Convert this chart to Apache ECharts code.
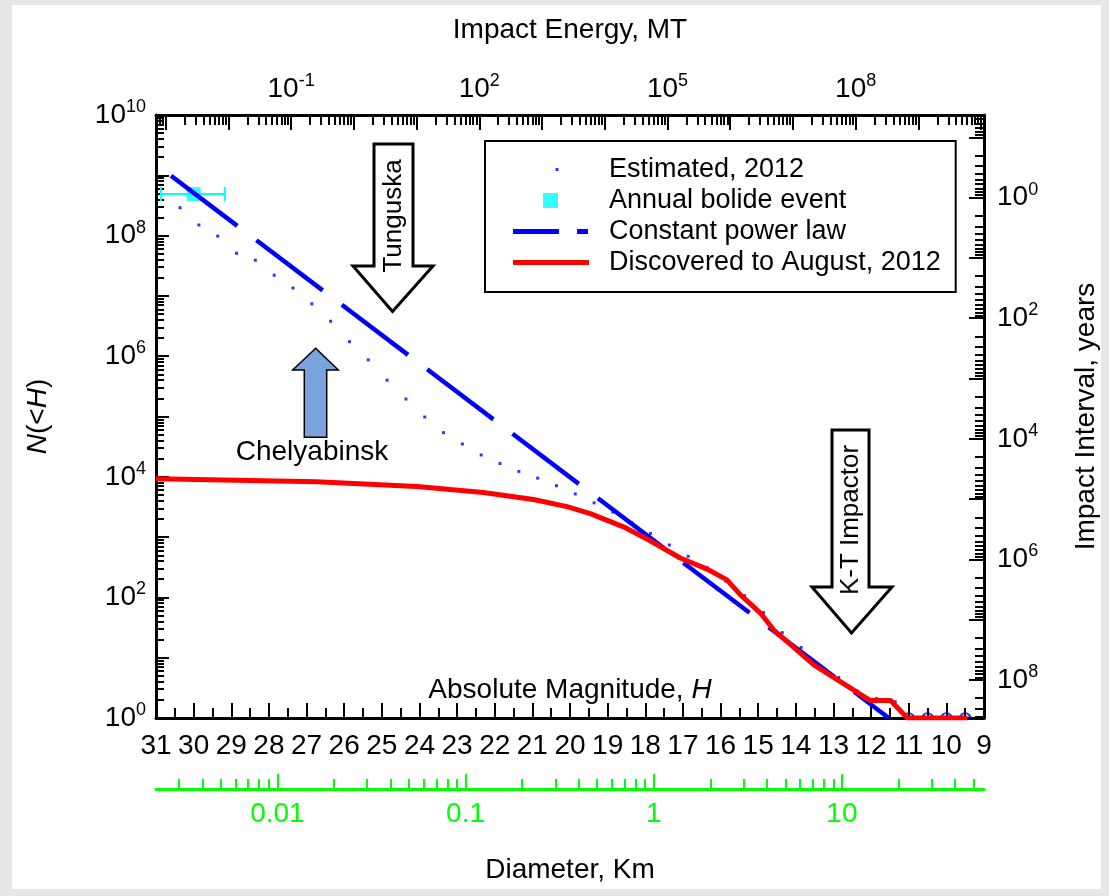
<!DOCTYPE html>
<html>
<head>
<meta charset="utf-8">
<script src="https://cdn.jsdelivr.net/npm/echarts@6/dist/echarts.min.js"></script>
<style>
  html, body { margin: 0; padding: 0; background: #e6e6e6; }
  #panel { position: absolute; left: 12px; top: 5px; width: 1089px; height: 884px; background: #fff; }
  #main { position: absolute; left: 0; top: 0; width: 1109px; height: 896px; }
</style>
</head>
<body>
<div id="panel"></div>
<div id="main"></div>
<script>
// ---- values ----
// Estimated, 2012 (cumulative N(<H), half-magnitude steps)
var estH = [30.36, 29.86, 29.36, 28.86, 28.36, 27.86, 27.36, 26.86, 26.36, 25.86,
            25.36, 24.86, 24.36, 23.86, 23.36, 22.86, 22.36, 21.86, 21.36, 20.86,
            20.36, 19.86, 19.36, 18.86, 18.36, 17.86, 17.36, 16.86, 16.36, 15.86,
            15.36, 14.86, 14.36, 13.86, 13.36, 12.86, 12.36, 11.86, 11.36];
var estN = [2.9e8, 1.5e8, 9.8e7, 5.1e7, 3.9e7, 2.2e7, 1.35e7, 7.4e6, 3.8e6, 1.74e6,
            8.7e5, 4.0e5, 1.95e5, 9.8e4, 5.4e4, 3.5e4, 2.3e4, 1.66e4, 1.23e4, 9500,
            7100, 5200, 3700, 2600, 1740, 1150, 740, 480, 310, 186,
            107, 56, 26, 14.8, 7.4, 4.7, 2.8, 2.1, 1.86];
// open markers sitting on N = 1
var lastH = [11.0, 10.5, 10.0, 9.5];
var lastN = [1, 1, 1, 1];
// Annual bolide event and its H range
var bolideH = [30.0];
var bolideN = [4.9e8];
var bolideHLo = [30.87];
var bolideHHi = [29.17];
// Constant power law
var powerH = [30.6, 11.53];
var powerN = [9.8e8, 1];
// Discovered to August, 2012
var discH = [31.0, 26.73, 24.07, 22.3, 20.97, 20.08, 19.46, 18.58, 17.87, 17.07,
             16.36, 15.83, 15.47, 14.94, 14.59, 13.52, 12.02, 11.48, 11.04, 9.44];
var discN = [9300, 8300, 6900, 5500, 4200, 3200, 2450, 1480, 870, 450,
             295, 195, 110, 55, 29, 7.6, 1.95, 1.95, 1, 1];

// tick labels
var nLabelExp = [0, 2, 4, 6, 8, 10];
var energyLabelExp = [-1, 2, 5, 8];
var intervalLabelExp = [0, 2, 4, 6, 8];
var diamLabels = [0.01, 0.1, 1, 10];

// ---- layout ----
var FONT = '"Liberation Sans", Arial, sans-serif';
var E_MIN = -3.154, E_MAX = 10.046;   // log10 energy (MT) at H = 31 and H = 9
var D_MIN = -2.645, D_MAX = 1.755;    // log10 diameter (km) at H = 31 and H = 9
var T_MIN = -1.37, T_MAX = 8.63;      // log10 interval (years) at N = 1e10 and N = 1

function lg(v) { return Math.log10(v); }

function logTicks(lo, hi, minor) {
  var out = [];
  for (var k = Math.floor(lo) - 1; k <= Math.ceil(hi); k++) {
    if (!minor) {
      if (k >= lo && k <= hi) out.push(k);
      continue;
    }
    for (var m = 2; m <= 9; m++) {
      var v = k + Math.log10(m);
      if (v >= lo && v <= hi) out.push(+v.toFixed(6));
    }
  }
  return out;
}

function supLabel(v) { return '{b|10}{s|' + Math.round(v) + '}'; }
var supRich = {
  b: { fontFamily: FONT, fontSize: 28, color: '#000' },
  s: { fontFamily: FONT, fontSize: 18, color: '#000', padding: [0, 0, 16, 0] }
};
var black = { color: '#000', width: 2 };
var nameStyle = { fontFamily: FONT, fontSize: 28, color: '#000' };
var italicRich = { i: { fontFamily: FONT, fontSize: 28, fontStyle: 'italic', color: '#000' } };
var frameLine = { onZero: false, lineStyle: { color: '#000', width: 3 } };
var noLine = { show: false, onZero: false };

function withRich(base, rich) {
  var o = {};
  for (var k in base) o[k] = base[k];
  o.rich = rich;
  return o;
}

function legendIcon(body) {
  // corner specks pin the icon frame to 91 x 16
  return 'path://M0,0h0.05v0.05h-0.05z M90.95,15.95h0.05v0.05h-0.05z ' + body;
}

var chart = echarts.init(document.getElementById('main'));

var option = {
  animation: false,
  grid: { left: 156, right: 125, top: 115, bottom: 178, containLabel: false, outerBoundsMode: 'none' },
  legend: {
    orient: 'vertical',
    left: 485,
    top: 141,
    backgroundColor: '#fff',
    borderColor: '#000',
    borderWidth: 2,
    padding: [15, 15, 16, 28],
    itemGap: 4,
    itemWidth: 91,
    itemHeight: 16,
    selectedMode: false,
    itemStyle: { borderWidth: 0 },
    textStyle: { fontFamily: FONT, fontSize: 27, color: '#000', lineHeight: 27 },
    data: [
      { name: 'Estimated, 2012', icon: legendIcon('M42.5,6.5h3v3h-3z'), itemStyle: { color: '#0000ff' } },
      { name: 'Annual bolide event', icon: legendIcon('M30,0.5h15v15h-15z'), itemStyle: { color: '#00ffff' } },
      { name: 'Constant power law', icon: legendIcon('M0,5.5h46v5h-46z M64,5.5h11v5h-11z'), itemStyle: { color: '#0000ff' } },
      { name: 'Discovered to August, 2012', icon: legendIcon('M0,5.5h76v5h-76z'), itemStyle: { color: '#ff0000' } }
    ]
  },
  xAxis: [
    { // absolute magnitude H
      type: 'value', min: 9, max: 31, interval: 1, inverse: true, position: 'bottom',
      name: 'Absolute Magnitude, {i|H}', nameLocation: 'middle', nameGap: -42,
      nameTextStyle: withRich(nameStyle, italicRich),
      axisLine: frameLine,
      axisTick: { inside: true, length: 15, lineStyle: black },
      minorTick: { show: true, splitNumber: 2, length: 10, lineStyle: black },
      axisLabel: { margin: 14, fontFamily: FONT, fontSize: 28, color: '#000' },
      splitLine: { show: false }
    },
    { // impact energy, decades
      type: 'value', position: 'top', min: E_MIN, max: E_MAX,
      name: 'Impact Energy, MT', nameLocation: 'middle', nameGap: 71, nameTextStyle: nameStyle,
      axisLine: frameLine,
      axisTick: { inside: true, length: 15, lineStyle: black, customValues: logTicks(E_MIN, E_MAX, false) },
      axisLabel: { margin: 9, customValues: energyLabelExp, formatter: supLabel, rich: supRich },
      splitLine: { show: false }
    },
    { // impact energy, minor ticks
      type: 'value', position: 'top', min: E_MIN, max: E_MAX,
      axisLine: noLine,
      axisTick: { inside: true, length: 10, lineStyle: black, customValues: logTicks(E_MIN, E_MAX, true) },
      axisLabel: { show: false },
      splitLine: { show: false }
    },
    { // diameter, decades
      type: 'value', position: 'bottom', offset: 71, min: D_MIN, max: D_MAX,
      name: 'Diameter, Km', nameLocation: 'middle', nameGap: 67, nameTextStyle: nameStyle,
      axisLine: { onZero: false, lineStyle: { color: '#00ff00', width: 3 } },
      axisTick: { inside: true, length: 15, lineStyle: { color: '#00ff00', width: 2 }, customValues: logTicks(D_MIN, D_MAX, false) },
      axisLabel: {
        margin: 11, fontFamily: FONT, fontSize: 28, color: '#00ff00',
        customValues: diamLabels.map(lg),
        formatter: function (v) { return String(Number(Math.pow(10, v).toPrecision(2))); }
      },
      splitLine: { show: false }
    },
    { // diameter, minor ticks
      type: 'value', position: 'bottom', offset: 71, min: D_MIN, max: D_MAX,
      axisLine: noLine,
      axisTick: { inside: true, length: 10, lineStyle: { color: '#00ff00', width: 2 }, customValues: logTicks(D_MIN, D_MAX, true) },
      axisLabel: { show: false },
      splitLine: { show: false }
    }
  ],
  yAxis: [
    { // N(<H), log10
      type: 'value', position: 'left', min: 0, max: 10,
      name: '{i|N}(<{i|H})', nameLocation: 'middle', nameGap: 104,
      nameTextStyle: withRich(nameStyle, italicRich),
      axisLine: frameLine,
      axisTick: { inside: true, length: 13, lineStyle: black, customValues: logTicks(0, 10, false) },
      axisLabel: { margin: 10, customValues: nLabelExp, formatter: supLabel, rich: supRich },
      splitLine: { show: false }
    },
    {
      type: 'value', position: 'left', min: 0, max: 10,
      axisLine: noLine,
      axisTick: { inside: true, length: 8, lineStyle: black, customValues: logTicks(0, 10, true) },
      axisLabel: { show: false },
      splitLine: { show: false }
    },
    { // impact interval, log10 years
      type: 'value', position: 'right', min: T_MIN, max: T_MAX, inverse: true,
      name: 'Impact Interval, years', nameLocation: 'middle', nameGap: 88, nameTextStyle: nameStyle,
      axisLine: frameLine,
      axisTick: { inside: true, length: 15, lineStyle: black, customValues: logTicks(T_MIN, T_MAX, false) },
      axisLabel: { margin: 13, customValues: intervalLabelExp, formatter: supLabel, rich: supRich },
      splitLine: { show: false }
    },
    {
      type: 'value', position: 'right', min: T_MIN, max: T_MAX, inverse: true,
      axisLine: noLine,
      axisTick: { inside: true, length: 9, lineStyle: black, customValues: logTicks(T_MIN, T_MAX, true) },
      axisLabel: { show: false },
      splitLine: { show: false }
    }
  ],
  series: [
    {
      name: 'bolide range',
      type: 'custom',
      data: bolideH.map(function (h, i) { return [bolideHLo[i], bolideHHi[i], lg(bolideN[i])]; }),
      encode: { x: [0, 1], y: 2 },
      renderItem: function (params, api) {
        var a = api.coord([api.value(0), api.value(2)]);
        var b = api.coord([api.value(1), api.value(2)]);
        var st = { stroke: '#00ffff', lineWidth: 2 };
        return {
          type: 'group',
          children: [
            { type: 'line', shape: { x1: a[0], y1: a[1], x2: b[0], y2: b[1] }, style: st },
            { type: 'line', shape: { x1: a[0], y1: a[1] - 7, x2: a[0], y2: a[1] + 7 }, style: st },
            { type: 'line', shape: { x1: b[0], y1: b[1] - 7, x2: b[0], y2: b[1] + 7 }, style: st }
          ]
        };
      }
    },
    {
      name: 'Annual bolide event',
      type: 'scatter',
      symbol: 'rect',
      symbolSize: 14,
      itemStyle: { color: '#00ffff' },
      data: bolideH.map(function (h, i) { return [h, lg(bolideN[i])]; })
    },
    {
      name: 'Estimated, 2012',
      type: 'scatter',
      symbol: 'rect',
      symbolSize: 3,
      itemStyle: { color: '#0000ff' },
      data: estH.map(function (h, i) { return [h, lg(estN[i])]; })
    },
    {
      name: 'estimate at one',
      type: 'scatter',
      symbol: 'path://M0,10A10,10,0,0,1,20,10',
      symbolSize: [10, 5],
      symbolOffset: [0, -2.5],
      itemStyle: { color: 'rgba(0,0,0,0)', borderColor: '#0000ff', borderWidth: 2 },
      data: lastH.map(function (h, i) { return [h, lg(lastN[i])]; })
    },
    {
      name: 'Constant power law',
      type: 'line',
      symbol: 'none',
      lineStyle: { color: '#0000ff', width: 4.5, type: [83, 24] },
      itemStyle: { color: '#0000ff' },
      data: powerH.map(function (h, i) { return [h, lg(powerN[i])]; })
    },
    {
      name: 'Discovered to August, 2012',
      type: 'line',
      symbol: 'none',
      lineStyle: { color: '#ff0000', width: 5 },
      itemStyle: { color: '#ff0000' },
      data: discH.map(function (h, i) { return [h, lg(discN[i])]; })
    }
  ],
  graphic: [
    { // Tunguska arrow
      type: 'polygon',
      shape: { points: [[374, 144], [413, 144], [413, 266], [433, 266], [392.5, 311.5], [353, 266], [374, 266]] },
      style: { fill: '#fff', stroke: '#000', lineWidth: 3 }
    },
    {
      type: 'text', x: 394, y: 216, rotation: Math.PI / 2,
      style: { text: 'Tunguska', fontFamily: FONT, fontSize: 26, fill: '#000', align: 'center', verticalAlign: 'middle' }
    },
    { // K-T Impactor arrow
      type: 'polygon',
      shape: { points: [[832, 430], [869, 430], [869, 587], [892, 587], [851.5, 633], [812, 587], [832, 587]] },
      style: { fill: '#fff', stroke: '#000', lineWidth: 3 }
    },
    {
      type: 'text', x: 851, y: 520, rotation: Math.PI / 2,
      style: { text: 'K-T Impactor', fontFamily: FONT, fontSize: 26, fill: '#000', align: 'center', verticalAlign: 'middle' }
    },
    { // Chelyabinsk arrow
      type: 'polygon',
      shape: { points: [[304.3, 437.3], [304.3, 370], [292.7, 370], [315.7, 348.3], [338.3, 370], [326.7, 370], [326.7, 437.3]] },
      style: { fill: '#7ba3db', stroke: '#000', lineWidth: 1.5 }
    },
    {
      type: 'text', x: 312, y: 452,
      style: { text: 'Chelyabinsk', fontFamily: FONT, fontSize: 28, fill: '#000', align: 'center', verticalAlign: 'middle' }
    }
  ]
};

chart.setOption(option);
</script>
</body>
</html>
